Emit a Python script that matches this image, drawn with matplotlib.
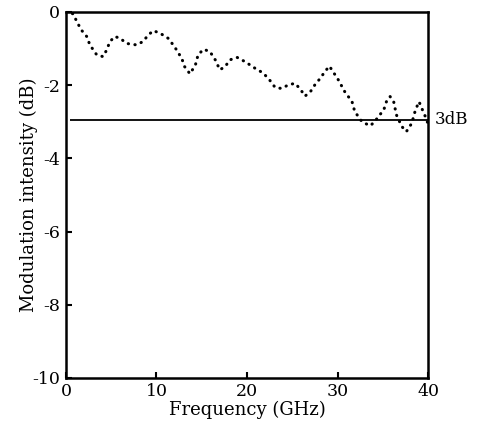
import matplotlib
matplotlib.use("Agg")
import matplotlib.pyplot as plt

# ── data ─────────────────────────────────────────────────────
freq_ghz = [0.0, 0.8, 1.2, 1.7, 2.3, 2.65, 3.4, 4.1, 4.5, 4.86, 5.4, 6.0, 6.7,
            7.8, 8.5, 9.1, 9.65, 10.4, 11.3, 12.0, 12.8, 13.1, 13.7, 14.3,
            14.6, 15.2, 15.9, 16.5, 17.0, 17.6, 18.1, 18.9, 19.8, 20.9, 21.8,
            22.5, 23.1, 23.8, 24.6, 25.3, 25.9, 26.4, 27.0, 27.5, 28.1, 28.6,
            29.1, 29.5, 30.1, 30.8, 31.6, 31.9, 32.7, 33.6, 34.1, 34.5, 35.1,
            35.4, 35.8, 36.2, 36.5, 37.1, 37.6, 38.2, 38.6, 39.0, 39.3, 39.7,
            40.0]
intensity_db = [0.0, -0.05, -0.26, -0.49, -0.67, -0.9, -1.17, -1.22, -1.04,
                -0.81, -0.67, -0.72, -0.86, -0.9, -0.81, -0.63, -0.51, -0.58,
                -0.72, -0.95, -1.27, -1.49, -1.69, -1.45, -1.17, -1.02, -1.08,
                -1.31, -1.58, -1.49, -1.31, -1.24, -1.36, -1.54, -1.67, -1.86,
                -2.06, -2.09, -1.99, -1.95, -2.11, -2.3, -2.18, -1.99, -1.81,
                -1.63, -1.48, -1.63, -1.86, -2.18, -2.45, -2.72, -3.0, -3.11,
                -3.0, -2.86, -2.68, -2.45, -2.31, -2.45, -2.81, -3.13, -3.27,
                -3.04, -2.68, -2.45, -2.63, -2.86, -3.06]
level_3db = -2.95
x_ticks = [0, 10, 20, 30, 40]
y_ticks = [0, -2, -4, -6, -8, -10]

FONT = "DejaVu Serif"

fig = plt.figure(figsize=(4.81, 4.28), dpi=100)
fig.patch.set_facecolor("white")
ax = fig.add_axes([0.137, 0.117, 0.753, 0.855])

ax.plot(freq_ghz, intensity_db, color="black", lw=2.2,
        linestyle=(0, (0.1, 2.1)), dash_capstyle="round")
ax.hlines(level_3db, 0.4, 40, color="black", lw=1.3)
ax.text(40.7, level_3db, "3dB", ha="left", va="center", fontsize=12,
        fontfamily=FONT, clip_on=False)

ax.set_xlim(0, 40)
ax.set_ylim(-10, 0)
ax.set_xticks(x_ticks)
ax.set_xticklabels([str(v) for v in x_ticks])
ax.set_yticks(y_ticks)
ax.set_yticklabels([str(v) for v in y_ticks])
ax.tick_params(direction="in", length=4, width=1.5, labelsize=12.5, pad=4)
for lab in ax.get_xticklabels() + ax.get_yticklabels():
    lab.set_fontfamily(FONT)
for s in ax.spines.values():
    s.set_linewidth(1.8)

ax.set_xlabel("Frequency (GHz)", fontsize=13, fontfamily=FONT, labelpad=0)
ax.set_ylabel("Modulation intensity (dB)", fontsize=13, fontfamily=FONT,
              labelpad=-4)

fig.savefig("out.png", dpi=100, facecolor="white")
